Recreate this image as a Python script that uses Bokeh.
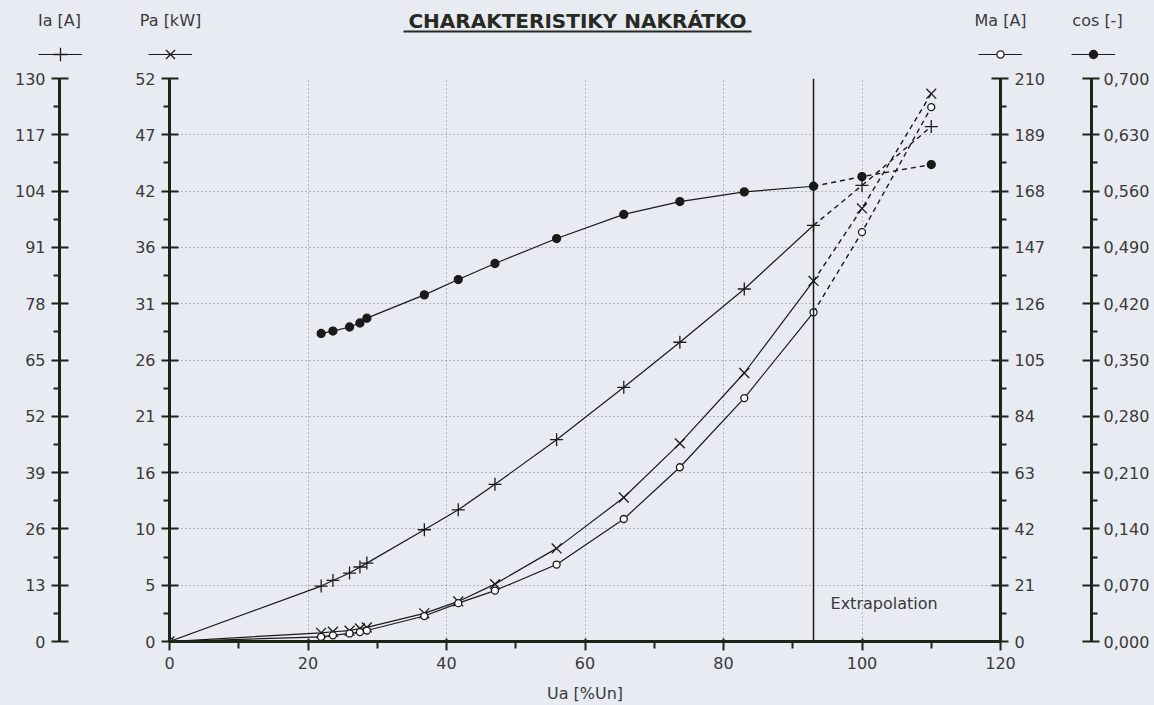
from bokeh.plotting import figure
from bokeh.layouts import column
from bokeh.models import (Range1d, LinearAxis, FixedTicker, CustomJSTickFormatter,
                          Span, Label, Legend, LegendItem, BoxAnnotation, ColumnDataSource)
from bokeh.embed import file_html
from bokeh.resources import INLINE

# ---------------- data ----------------
U = [0, 21.9, 23.6, 26.0, 27.5, 28.5, 36.8, 41.7, 47.0, 55.9, 65.6, 73.7, 83.0, 93.0, 100.0, 110.0]
IA = [0, 12.8, 14.1, 15.8, 17.2, 18.1, 25.8, 30.4, 36.3, 46.6, 58.7, 69.1, 81.4, 96.1, 105.3, 118.9]
PA = [0, 0.8, 0.9, 1.0, 1.2, 1.3, 2.6, 3.7, 5.3, 8.6, 13.3, 18.3, 24.8, 33.3, 40.0, 50.6]
MA = [0, 1.7, 2.3, 3.0, 3.5, 4.1, 9.5, 14.3, 19.0, 28.7, 45.7, 65.0, 90.8, 122.8, 152.7, 199.3]
COS_U = U[1:]
COS = [0.383, 0.386, 0.391, 0.396, 0.402, 0.431, 0.450, 0.470, 0.501, 0.531,
       0.547, 0.559, 0.566, 0.578, 0.593]
EXTRAP_START = 93.0

X_TICKS = [0, 20, 40, 60, 80, 100, 120]
X_MINOR = [10, 30, 50, 70, 90, 110]
IA_TICKS = [0, 13, 26, 39, 52, 65, 78, 91, 104, 117, 130]
PA_TICKS = [0, 5.2, 10.4, 15.6, 20.8, 26.0, 31.2, 36.4, 41.6, 46.8, 52.0]
MA_TICKS = [0, 21, 42, 63, 84, 105, 126, 147, 168, 189, 210]
COS_TICKS = [0, 0.07, 0.14, 0.21, 0.28, 0.35, 0.42, 0.49, 0.56, 0.63, 0.70]

TITLE = "CHARAKTERISTIKY NAKRÁTKO"
X_LABEL = "Ua [%Un]"
NAMES = {"ia": "Ia [A]", "pa": "Pa [kW]", "ma": "Ma [A]", "cos": "cos [-]"}

# ---------------- style ----------------
FONT = "DejaVu Sans"
BG = "#e8ebf1"
AX = "#1e2418"
INK = "#1a1a1a"
TXT = "#3a3a3a"
W = 1154
TOP_H = 66
L, R, T, B = 169, 154, 12, 64
H = 705 - TOP_H
NAN = float("nan")

STYLE = {
    "ia": dict(marker="cross", size=13, fill_color=None, key_h=34),
    "pa": dict(marker="x", size=14, fill_color=None, key_h=32),
    "ma": dict(marker="circle", size=7, fill_color="white", key_h=18),
    "cos": dict(marker="circle", size=8, fill_color=INK, key_h=20),
}

# ---------------- header strip (title, axis names, keys) ----------------
top = figure(width=W, height=TOP_H, output_backend="svg", toolbar_location=None,
             x_range=Range1d(0, W), y_range=Range1d(TOP_H, 0),
             x_axis_location=None, y_axis_location=None, min_border=0)
top.frame_align = False
top.grid.visible = False
top.outline_line_color = None
top.background_fill_color = BG
top.border_fill_color = BG


def head_label(text, cx, cy, size="16px", bold=False, color=TXT):
    top.add_layout(Label(x=cx, y=cy, text=text, text_font=FONT, text_font_size=size,
                         text_color=color, text_font_style="bold" if bold else "normal",
                         text_align="center", text_baseline="middle"))


head_label(TITLE, 577, 20, "20px", True, "#262a22")
top.add_layout(BoxAnnotation(left=403, right=751, top=30, bottom=32,
                             fill_color="#262a22", fill_alpha=1, line_color=None))
KEY_X = {"ia": 60, "pa": 170, "ma": 1000, "cos": 1093}
NAME_X = {"ia": 59, "pa": 170, "ma": 1000, "cos": 1097}
for k in ("ia", "pa", "ma", "cos"):
    head_label(NAMES[k], NAME_X[k], 20)
    st = STYLE[k]
    ln = top.line(x=[NAN], y=[NAN], line_color=INK, line_width=1.2)
    sc = top.scatter(x=[NAN], y=[NAN], marker=st["marker"], size=st["size"],
                     line_color=INK, line_width=1.3, fill_color=st["fill_color"])
    h = st["key_h"]
    top.add_layout(Legend(items=[LegendItem(label=" ", renderers=[ln, sc])],
                          location=(KEY_X[k] - 22, TOP_H - 54 - h / 2),
                          glyph_width=44, glyph_height=h, padding=0, margin=0, spacing=0,
                          label_standoff=0, label_width=0, label_text_font_size="1px",
                          border_line_color=None, background_fill_alpha=0))

# ---------------- main chart ----------------
p = figure(width=W, height=H, output_backend="svg", toolbar_location=None,
           x_range=Range1d(0, 120), y_range=Range1d(0, 130),
           y_axis_location=None, min_border_left=L, min_border_right=R,
           min_border_top=T, min_border_bottom=B)
p.frame_align = False
p.extra_y_ranges = {"pa": Range1d(0, 52), "ma": Range1d(0, 210), "cos": Range1d(0, 0.7)}
p.background_fill_color = BG
p.border_fill_color = BG
p.outline_line_color = None


def minors(t):
    return [(a + b) / 2 for a, b in zip(t[:-1], t[1:])]


def style_axis(ax):
    ax.axis_line_width = 3
    ax.axis_line_color = AX
    ax.major_tick_line_color = AX
    ax.minor_tick_line_color = AX
    ax.major_tick_line_width = 2
    ax.minor_tick_line_width = 2
    ax.major_label_text_font = FONT
    ax.major_label_text_font_size = "16px"
    ax.major_label_text_color = TXT
    ax.major_label_standoff = 6


def y_axis(rng, ticks, code, side, pad, standoff=6):
    ax = LinearAxis(y_range_name=rng,
                    ticker=FixedTicker(ticks=ticks, minor_ticks=minors(ticks)),
                    formatter=CustomJSTickFormatter(code=code))
    style_axis(ax)
    ax.major_label_standoff = standoff
    ax.major_tick_in = 9
    ax.major_tick_out = 8
    ax.minor_tick_in = 0
    ax.minor_tick_out = 6
    if pad:
        ax.axis_label = " "
        ax.axis_label_text_font_size = "8px"
        ax.axis_label_standoff = pad
    p.add_layout(ax, side)
    return ax


y_axis("pa", PA_TICKS, "return Math.round(tick).toString();", "left", 61)
y_axis("default", IA_TICKS, "return Math.round(tick).toString();", "left", 0)
y_axis("ma", MA_TICKS, "return Math.round(tick).toString();", "right", 31)
y_axis("cos", COS_TICKS, "return tick.toFixed(3).replace('.', ',');", "right", 0, 4)

xa = p.xaxis[0]
xa.ticker = FixedTicker(ticks=X_TICKS, minor_ticks=X_MINOR)
style_axis(xa)
xa.major_tick_in = 3
xa.major_tick_out = 9
xa.minor_tick_in = 0
xa.minor_tick_out = 7
xa.axis_label = X_LABEL
xa.axis_label_text_font = FONT
xa.axis_label_text_font_size = "16px"
xa.axis_label_text_font_style = "normal"
xa.axis_label_text_color = TXT
xa.axis_label_standoff = 12

p.xgrid.ticker = FixedTicker(ticks=X_TICKS)
p.ygrid.ticker = FixedTicker(ticks=IA_TICKS)
for g in (p.xgrid, p.ygrid):
    g.grid_line_color = "#7d7f84"
    g.grid_line_dash = "1 3"
    g.grid_line_width = 1

p.add_layout(Span(location=EXTRAP_START, dimension="height", line_color=INK, line_width=1.5))


def series(xs, ys, rng, st):
    solid = ColumnDataSource(dict(x=[a for a in xs if a <= EXTRAP_START],
                                  y=[b for a, b in zip(xs, ys) if a <= EXTRAP_START]))
    dashed = ColumnDataSource(dict(x=[a for a in xs if a >= EXTRAP_START],
                                   y=[b for a, b in zip(xs, ys) if a >= EXTRAP_START]))
    alls = ColumnDataSource(dict(x=xs, y=ys))
    p.line("x", "y", source=solid, y_range_name=rng, line_color=INK, line_width=1.2)
    p.line("x", "y", source=dashed, y_range_name=rng, line_color=INK, line_width=1.4,
           line_dash="5 4")
    p.scatter("x", "y", source=alls, y_range_name=rng, marker=st["marker"], size=st["size"],
              line_color=INK, line_width=1.3, fill_color=st["fill_color"])


series(U, IA, "default", STYLE["ia"])
series(U, PA, "pa", STYLE["pa"])
series(U, MA, "ma", STYLE["ma"])
series(COS_U, COS, "cos", STYLE["cos"])

p.add_layout(Label(x=EXTRAP_START, y=0, x_offset=17, y_offset=38, text="Extrapolation",
                   text_font=FONT, text_font_size="16px", text_color=TXT,
                   text_baseline="middle"))

layout = column(top, p, spacing=0, styles={"background-color": BG})
open("out.html", "w").write(file_html(layout, INLINE))
